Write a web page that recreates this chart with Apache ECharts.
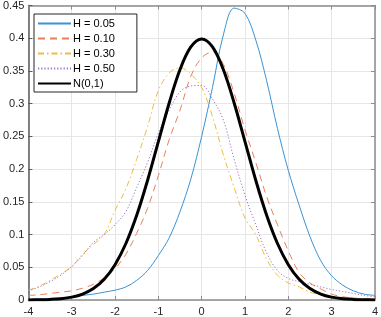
<!DOCTYPE html>
<html><head><meta charset="utf-8">
<script src="https://cdn.jsdelivr.net/npm/echarts@6/dist/echarts.min.js"></script>
<style>html,body{margin:0;padding:0;background:#fff}#c{width:381px;height:317px}</style>
</head><body><div id="c"></div>
<script>
var xs = [-4,-3.75,-3.5,-3.25,-3,-2.75,-2.5,-2.25,-2,-1.75,-1.5,-1.25,-1,-0.75,-0.5,-0.25,0,0.25,0.5,0.75,1,1.25,1.5,1.75,2,2.25,2.5,2.75,3,3.25,3.5,3.75,4];
var h005 = [0.001,0.0015,0.002,0.003,0.004,0.007,0.009,0.012,0.015,0.02,0.03,0.045,0.068,0.095,0.135,0.185,0.25,0.325,0.405,0.446,0.438,0.397,0.335,0.262,0.198,0.145,0.097,0.06,0.037,0.023,0.014,0.009,0.007];
var h010 = [0.007,0.008,0.01,0.012,0.014,0.018,0.024,0.034,0.048,0.07,0.102,0.14,0.19,0.245,0.29,0.342,0.37,0.379,0.36,0.316,0.26,0.21,0.158,0.115,0.075,0.042,0.026,0.017,0.009,0.005,0.003,0.002,0.001];
var h030 = [0.015,0.021,0.03,0.04,0.051,0.07,0.085,0.1,0.137,0.17,0.215,0.265,0.32,0.347,0.355,0.345,0.325,0.28,0.222,0.172,0.125,0.1,0.062,0.038,0.026,0.02,0.012,0.008,0.005,0.004,0.003,0.002,0.002];
var h050 = [0.014,0.02,0.028,0.038,0.051,0.068,0.088,0.1,0.115,0.135,0.172,0.21,0.255,0.29,0.318,0.327,0.328,0.307,0.275,0.215,0.16,0.115,0.072,0.045,0.033,0.028,0.024,0.02,0.016,0.013,0.01,0.007,0.005];
var norm = [0.0001,0.0004,0.0009,0.002,0.0044,0.0091,0.0175,0.0317,0.054,0.0863,0.1295,0.1826,0.242,0.3011,0.3521,0.3867,0.3989,0.3867,0.3521,0.3011,0.242,0.1826,0.1295,0.0863,0.054,0.0317,0.0175,0.0091,0.0044,0.002,0.0009,0.0004,0.0001];
var names = ['H = 0.05','H = 0.10','H = 0.30','H = 0.50','N(0,1)'];
var xTicks = [-4,-3,-2,-1,0,1,2,3,4];
var yTicks = [0,0.05,0.1,0.15,0.2,0.25,0.3,0.35,0.4,0.45];

function pts(ys){ return xs.map(function(x,i){ return [x, ys[i]]; }); }
var font = 'Liberation Sans, Arial, sans-serif';
var styles = [
  {color:'#3a93d4', width:1, type:'solid'},
  {color:'#e8805a', width:1, type:[7,5]},
  {color:'#efbc40', width:1, type:[6,3,1.5,3]},
  {color:'#a070c0', width:1, type:[1.2,2]},
  {color:'#000000', width:3, type:'solid'}
];
var datas = [h005,h010,h030,h050,norm];
var series = datas.map(function(d,i){
  return {name:names[i], type:'line', data:pts(d), smooth:0.35, symbol:'none', showSymbol:false, z: i===4?10:2,
    lineStyle:{color:styles[i].color, width:styles[i].width, type:styles[i].type},
    itemStyle:{color:styles[i].color}};
});
var chart = echarts.init(document.getElementById('c'));
chart.setOption({
  animation:false,
  backgroundColor:'#fff',
  grid:{left:26, right:2, top:5, bottom:17, containLabel:false},
  legend:{orient:'vertical', left:34, top:14, data:names, itemWidth:33, itemHeight:10, itemGap:4,
    padding:[4,22,3,3], borderColor:'#262626', borderWidth:1, backgroundColor:'#fff',
    itemStyle:{opacity:0},
    textStyle:{fontFamily:font, fontSize:11, color:'#000', padding:[0,0,0,-3]}},
  xAxis:[{type:'value', min:-4, max:4, interval:1,
    axisLine:{show:true, onZero:false, lineStyle:{color:'#8c8c8c', width:1.5}},
    axisTick:{show:true, inside:true, length:4, lineStyle:{color:'#8c8c8c'}},
    axisLabel:{fontFamily:font, fontSize:11, color:'#262626', margin:6,
      formatter:function(v){return String(v);}},
    splitLine:{show:true, lineStyle:{color:'#e6e6e6', width:1}}},
    {type:'value', position:'top', min:-4, max:4, interval:1,
    axisLine:{show:true, onZero:false, lineStyle:{color:'#8c8c8c', width:1.5}},
    axisTick:{show:true, inside:true, length:4, lineStyle:{color:'#8c8c8c'}},
    axisLabel:{show:false}, splitLine:{show:false}}],
  yAxis:[{type:'value', min:0, max:0.45, interval:0.05,
    axisLine:{show:true, onZero:false, lineStyle:{color:'#595959', width:1.5}},
    axisTick:{show:true, inside:true, length:4, lineStyle:{color:'#595959'}},
    axisLabel:{fontFamily:font, fontSize:11, color:'#262626', margin:4,
      formatter:function(v){return String(Math.round(v*100)/100);}},
    splitLine:{show:true, lineStyle:{color:'#e6e6e6', width:1}}},
    {type:'value', position:'right', min:0, max:0.45, interval:0.05,
    axisLine:{show:true, onZero:false, lineStyle:{color:'#8c8c8c', width:1.5}},
    axisTick:{show:true, inside:true, length:4, lineStyle:{color:'#8c8c8c'}},
    axisLabel:{show:false}, splitLine:{show:false}}],
  series:series
});
</script></body></html>
